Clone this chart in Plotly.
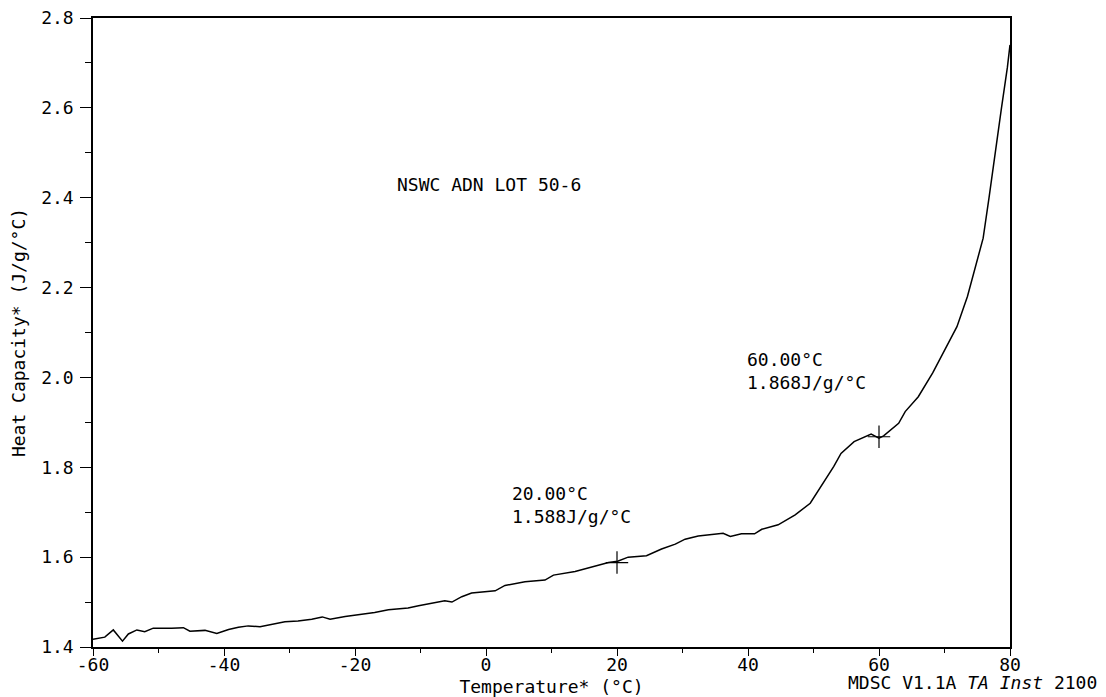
import plotly.graph_objects as go

# Temperature (°C) and reversing heat capacity (J/g/°C)
temp = [-60, -58.2, -56.9, -56.1, -55.5, -54.6, -53.3, -52.1, -50.8, -48.0,
        -46.2, -45.2, -42.9, -41.1, -39.3, -37.8, -36.3, -34.5, -32.7, -30.7,
        -28.7, -26.6, -25.0, -23.8, -21.5, -19.0, -17.0, -14.9, -11.9, -10.3,
        -7.8, -6.3, -5.2, -3.7, -2.2, -0.2, 1.4, 2.9, 5.95, 9.0,
        10.3, 13.6, 16.1, 18.7, 20.1, 21.7, 24.5, 26.8, 28.9, 30.4,
        32.4, 35.0, 36.2, 37.3, 39.0, 41.0, 42.1, 44.6, 47.2, 49.5,
        51.5, 53.1, 54.2, 56.2, 58.8, 60.0, 60.7, 63.0, 64.0, 66.0,
        68.2, 70.3, 71.9, 73.5, 74.8, 75.9, 76.8, 77.9, 78.7, 79.6, 80.0]
cp = [1.417, 1.422, 1.438, 1.423, 1.413, 1.429, 1.438, 1.434, 1.442, 1.442,
      1.443, 1.435, 1.437, 1.430, 1.439, 1.444, 1.447, 1.445, 1.451, 1.456,
      1.458, 1.462, 1.467, 1.462, 1.468, 1.473, 1.477, 1.483, 1.487, 1.492,
      1.498, 1.503, 1.500, 1.512, 1.520, 1.522, 1.525, 1.537, 1.545, 1.549,
      1.560, 1.568, 1.578, 1.588, 1.591, 1.600, 1.603, 1.618, 1.629, 1.640,
      1.647, 1.652, 1.653, 1.646, 1.652, 1.652, 1.662, 1.672, 1.694, 1.720,
      1.765, 1.802, 1.831, 1.857, 1.874, 1.865, 1.870, 1.898, 1.924, 1.957,
      2.010, 2.069, 2.113, 2.180, 2.250, 2.310, 2.400, 2.520, 2.600, 2.690, 2.740]

mark_t = [20.0, 60.0]
mark_cp = [1.588, 1.868]
mark_labels = ["20.00°C<br>1.588J/g/°C", "60.00°C<br>1.868J/g/°C"]
label_pos_t = [3.7, 39.5]
label_pos_cp = [1.716, 2.015]

x_ticks = [-60, -40, -20, 0, 20, 40, 60, 80]
x_tick_text = ["-60", "-40", "-20", "0", "20", "40", "60", "80"]
x_minor = [-50, -30, -10, 10, 30, 50, 70]
y_ticks = [1.4, 1.6, 1.8, 2.0, 2.2, 2.4, 2.6, 2.8]
y_tick_text = ["1.4", "1.6", "1.8", "2.0", "2.2", "2.4", "2.6", "2.8"]
y_minor = [1.5, 1.7, 1.9, 2.1, 2.3, 2.5, 2.7]

FONT = "DejaVu Sans Mono"
fs = 18

fig = go.Figure()
fig.add_trace(go.Scatter(x=temp, y=cp, mode="lines",
                         line=dict(color="black", width=1.5), showlegend=False))
fig.add_trace(go.Scatter(x=mark_t, y=mark_cp, mode="markers",
                         marker=dict(symbol="cross-thin-open", size=16, color="black",
                                     line=dict(color="black", width=1.2)),
                         showlegend=False))

for xt, yt, txt in zip(label_pos_t, label_pos_cp, mark_labels):
    fig.add_annotation(x=xt, y=yt, text=txt, showarrow=False, xanchor="left",
                       yanchor="middle", align="left",
                       font=dict(family=FONT, size=fs, color="black"))

fig.add_annotation(x=0.4, y=2.43, text="NSWC ADN LOT 50-6", showarrow=False,
                   xanchor="center", yanchor="middle",
                   font=dict(family=FONT, size=fs, color="black"))

fig.add_annotation(xref="paper", yref="paper", x=1.097, y=-0.056,
                   text="MDSC V1.1A <i>TA Inst</i> 2100", showarrow=False,
                   xanchor="right", yanchor="middle",
                   font=dict(family=FONT, size=fs, color="black"))

axis_common = dict(showline=True, mirror=True, linecolor="black", linewidth=1.5,
                   showgrid=False, zeroline=False, ticks="outside",
                   tickwidth=1.2, tickcolor="black", ticklabeloverflow="allow",
                   tickfont=dict(family=FONT, size=fs, color="black"))

fig.update_xaxes(range=[-60, 80], tickvals=x_ticks, ticktext=x_tick_text,
                 ticklen=7, ticklabelstandoff=-6,
                 minor=dict(tickvals=x_minor, ticks="outside", ticklen=4,
                            tickcolor="black"),
                 title=dict(text="Temperature* (°C)", standoff=9,
                            font=dict(family=FONT, size=fs, color="black")),
                 **axis_common)
fig.update_yaxes(range=[1.4, 2.8], tickvals=y_ticks, ticktext=y_tick_text,
                 ticklen=11, ticklabelstandoff=3,
                 minor=dict(tickvals=y_minor, ticks="outside", ticklen=6,
                            tickcolor="black"),
                 title=dict(text="Heat Capacity* (J/g/°C)", standoff=12,
                            font=dict(family=FONT, size=fs, color="black")),
                 **axis_common)

fig.update_layout(width=1098, height=689,
                  margin=dict(l=85, r=96, t=10, b=50, autoexpand=False),
                  paper_bgcolor="white", plot_bgcolor="white")

fig.write_html("out.html")
